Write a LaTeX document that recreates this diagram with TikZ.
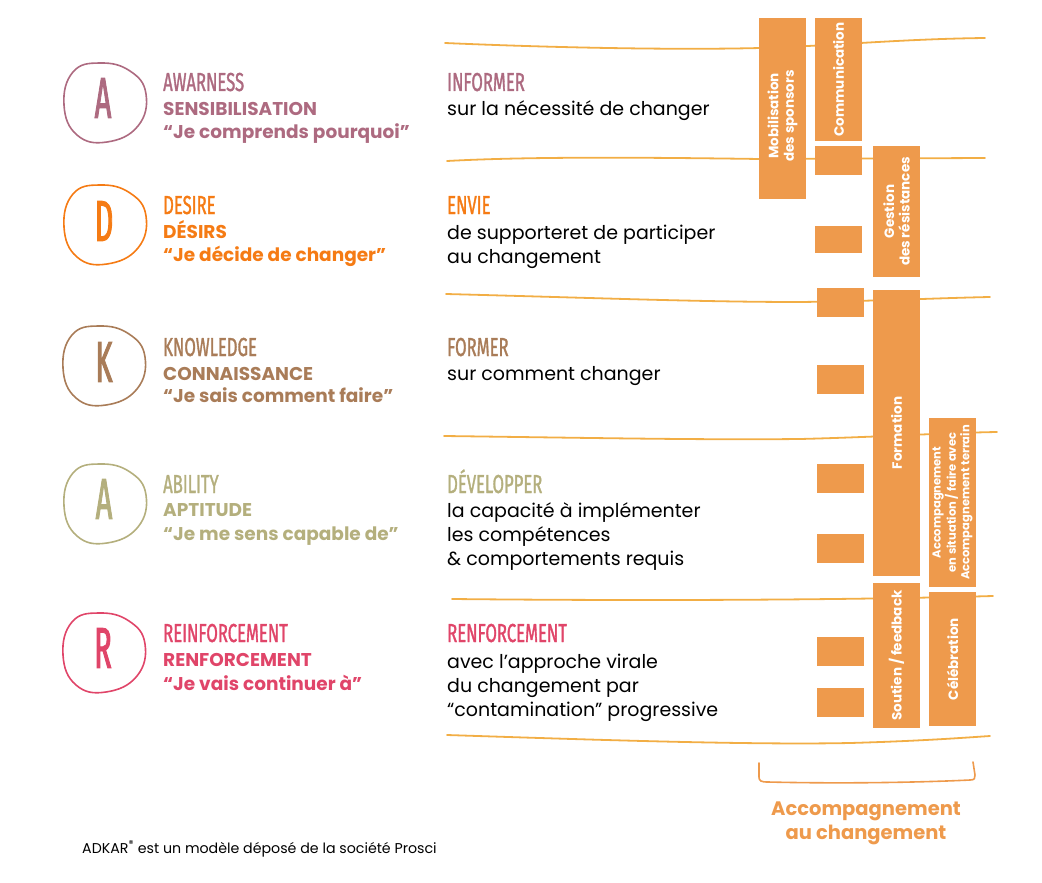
\documentclass[tikz,border=0pt]{standalone}
\usepackage{fontspec}
\setmainfont{Poppins}
\newfontfamily\headfont[FakeStretch=0.64,FakeBold=1.2]{Fira Sans}
\newfontfamily\letterfont[FakeStretch=0.5,FakeBold=1.5]{Fira Sans}
\definecolor{awarecol}{HTML}{AD6A80}
\definecolor{desirecol}{HTML}{F57B14}
\definecolor{knowcol}{HTML}{A97C58}
\definecolor{abilcol}{HTML}{B4AF7D}
\definecolor{reinfcol}{HTML}{E04569}
\definecolor{barcol}{HTML}{EE9A4C}
\definecolor{trackcol}{HTML}{F2AE45}
\newcommand{\pebble}[2]{%
  \draw[pebbleline,draw=#2,shift={(#1)}] plot[smooth cycle,tension=0.75] coordinates
    {(-5,-39) (25,-31) (41,-8) (33,24) (2,40) (-28,33) (-41,3) (-32,-30)};}

\begin{document}
\begin{tikzpicture}[x=1pt,y=-1pt,
  track/.style={draw=trackcol,line width=1.8pt,line cap=round},
  bar/.style={fill=barcol},
  bartext/.style={text=white,font=\bfseries\fontsize{13.5}{15.5}\selectfont,rotate=90,align=center,inner sep=0pt},
  pebbleline/.style={line width=1.6pt},
  letter/.style={font=\letterfont\fontsize{58}{58}\selectfont,inner sep=0pt},
  head/.style={anchor=base west,font=\headfont\fontsize{26}{26}\selectfont,inner sep=0pt},
  sub/.style={anchor=base west,font=\bfseries\fontsize{18.5}{22}\selectfont,inner sep=0pt},
  body/.style={anchor=base west,font=\fontsize{19}{24}\selectfont,inner sep=0pt}]
\useasboundingbox (0,0) rectangle (1042,883);
% hand drawn tracks
\draw[track] (445,43) .. controls (560,48) and (680,50) .. (760,48) .. controls (830,46) and (900,39) .. (985,38);
\draw[track] (447,161) .. controls (520,157) and (620,157) .. (760,159) -- (985,158);
\draw[track] (446,294) .. controls (600,298) and (700,302) .. (800,302) .. controls (880,301) and (940,298) .. (990,297);
\draw[track] (444,436) .. controls (600,438) and (700,440) .. (800,439) .. controls (880,437) and (940,433) .. (997,432);
\draw[track] (452,599) .. controls (650,601) and (850,600) .. (993,596);
\draw[track] (447,735) .. controls (600,740) and (750,745) .. (850,743) .. controls (920,741) and (960,738) .. (990,736);
% pebbles and letters
\pebble{105,102}{awarecol}
\node[letter,text=awarecol] (la) at (103,98) {A};
\pebble{105,224}{desirecol}
\node[letter,text=desirecol] (ld) at (104,221) {D};
\pebble{104,365}{knowcol}
\node[letter,text=knowcol] (lk) at (104,362) {K};
\pebble{105,503}{abilcol}
\node[letter,text=abilcol] (lab) at (104,499) {A};
\pebble{104,652}{reinfcol}
\node[letter,text=reinfcol] (lr) at (103,648) {R};
% left column
\node[head,text=awarecol] (aw1) at (163,91) {AWARNESS};
\node[sub,text=awarecol] (aw2) at (163,115) {SENSIBILISATION};
\node[sub,text=awarecol] (aw3) at (163,139) {“Je comprends pourquoi”};
\node[head,text=desirecol] (de1) at (163,214) {DESIRE};
\node[sub,text=desirecol] (de2) at (163,238) {DÉSIRS};
\node[sub,text=desirecol] (de3) at (163,261) {“Je décide de changer”};
\node[head,text=knowcol] (kn1) at (163,356) {KNOWLEDGE};
\node[sub,text=knowcol] (kn2) at (163,380) {CONNAISSANCE};
\node[sub,text=knowcol] (kn3) at (163,402) {“Je sais comment faire”};
\node[head,text=abilcol] (ab1) at (163,493) {ABILITY};
\node[sub,text=abilcol] (ab2) at (163,516) {APTITUDE};
\node[sub,text=abilcol] (ab3) at (163,540) {“Je me sens capable de”};
\node[head,text=reinfcol] (re1) at (163,642) {REINFORCEMENT};
\node[sub,text=reinfcol] (re2) at (163,666) {RENFORCEMENT};
\node[sub,text=reinfcol] (re3) at (163,690) {“Je vais continuer à”};
% middle column
\node[head,text=awarecol] (in1) at (447,91) {INFORMER};
\node[body] (in2) at (447,115) {sur la nécessité de changer};
\node[head,text=desirecol] (en1) at (447,214) {ENVIE};
\node[body] (en2) at (447,239) {de supporteret de participer};
\node[body] (en3) at (447,263) {au changement};
\node[head,text=knowcol] (fo1) at (447,356) {FORMER};
\node[body] (fo2) at (447,380) {sur comment changer};
\node[head,text=abilcol] (dv1) at (447,493) {DÉVELOPPER};
\node[body] (dv2) at (447,517) {la capacité à implémenter};
\node[body] (dv3) at (447,541) {les compétences};
\node[body] (dv4) at (447,565) {\& comportements requis};
\node[head,text=reinfcol] (rf1) at (447,642) {RENFORCEMENT};
\node[body] (rf2) at (447,668) {avec l’approche virale};
\node[body] (rf3) at (447,692) {du changement par};
\node[body] (rf4) at (447,716) {“contamination” progressive};
% bars
\fill[bar] (759,18) rectangle (806,199);
\fill[bar] (815,18) rectangle (862,141);
\fill[bar] (815,146) rectangle (862,175);
\fill[bar] (815,226) rectangle (862,253);
\fill[bar] (873,146) rectangle (920,277);
\fill[bar] (817,288) rectangle (864,317);
\fill[bar] (817,365) rectangle (864,394);
\fill[bar] (817,464) rectangle (864,493);
\fill[bar] (817,534) rectangle (864,563);
\fill[bar] (817,637) rectangle (864,666);
\fill[bar] (817,688) rectangle (864,717);
\fill[bar] (873,290) rectangle (920,576);
\fill[bar] (929,418) rectangle (976,587);
\fill[bar] (873,583) rectangle (920,728);
\fill[bar] (929,592) rectangle (976,726);
\node[bartext] (mob) at (782.5,116) {Mobilisation\\des sponsors};
\node[bartext] (com) at (838.5,79.5) {Communication};
\node[bartext] (ges) at (896.5,211.5) {Gestion\\des résistances};
\node[bartext] (frm) at (896.5,433) {Formation};
\node[bartext,font=\bfseries\fontsize{11.5}{13.5}\selectfont] (acc) at (952.5,502.5) {Accompagnement\\en situation / faire avec\\Accompagnement terrain};
\node[bartext] (sou) at (896.5,655.5) {Soutien / feedback};
\node[bartext] (cel) at (952.5,659) {Célébration};
% brace and caption
\draw[draw=barcol,line width=1.6pt,line cap=round] (759,763) -- (759,777) .. controls (759,781) and (761,782) .. (768,782) .. controls (850,784) and (930,782) .. (970,780) .. controls (975,780) and (975,778) .. (975,775) -- (973,762);
\node[font=\bfseries\fontsize{19.5}{24}\selectfont,text=barcol,align=center] (cap) at (866,823) {Accompagnement\\au changement};
\node[anchor=base west,inner sep=0pt,font=\fontsize{14.2}{16}\selectfont] (note) at (82,853) {ADKAR\textsuperscript{®} est un modèle déposé de la société Prosci};
\end{tikzpicture}
\end{document}
